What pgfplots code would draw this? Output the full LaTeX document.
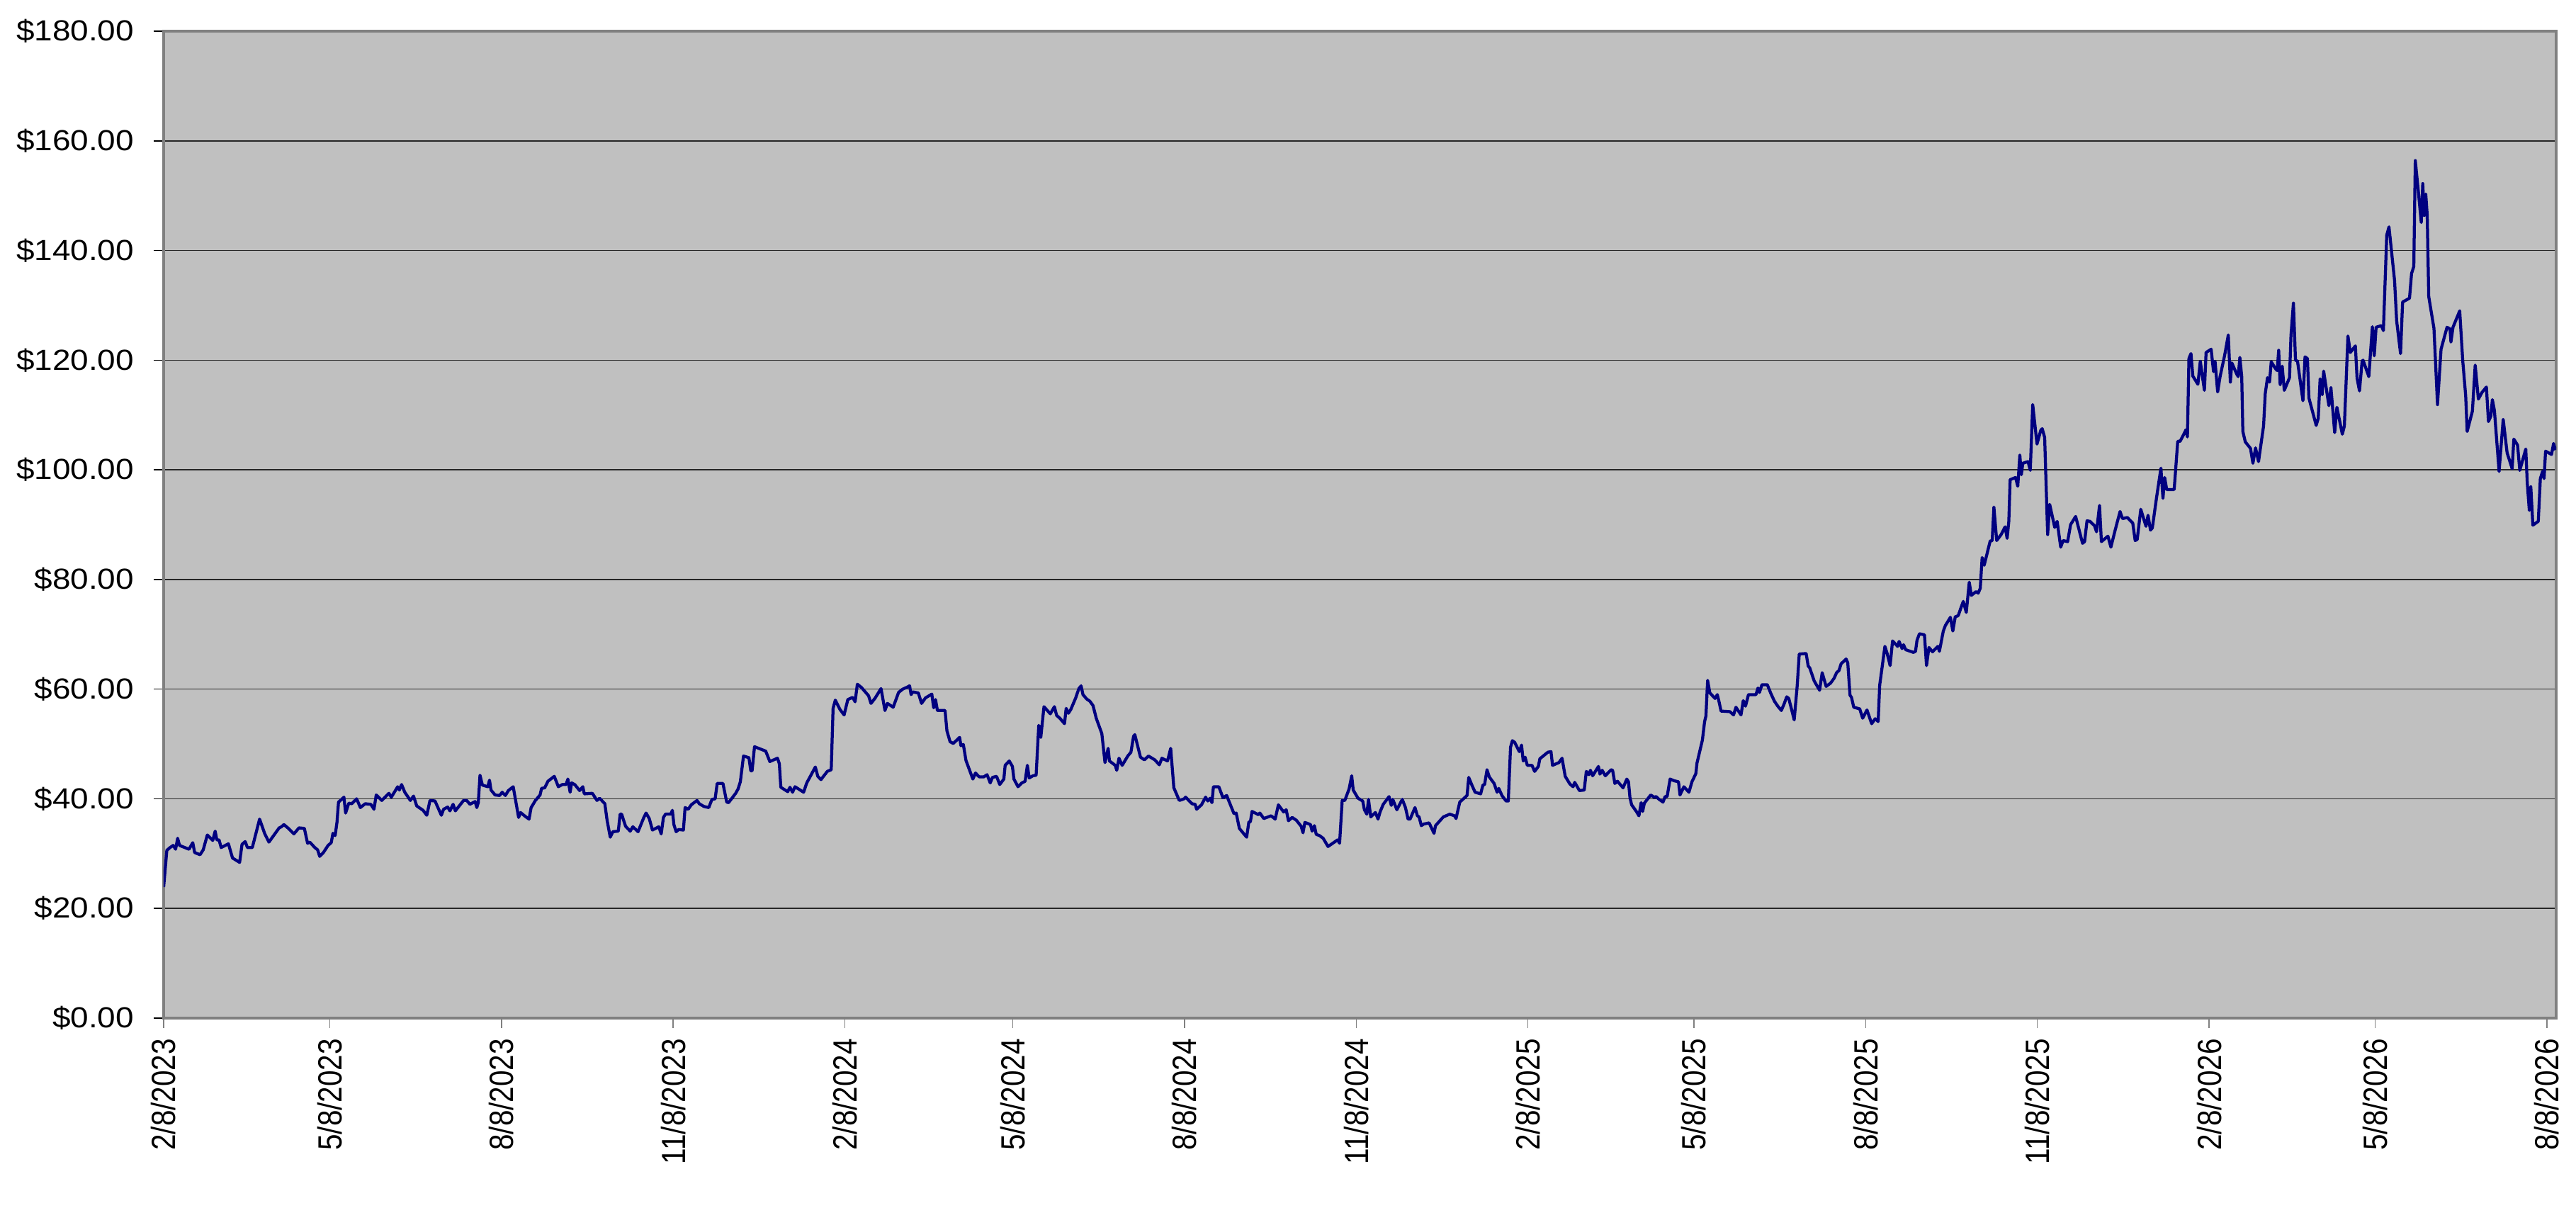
\documentclass[border=0pt]{standalone}
\usepackage{graphicx}
\usepackage{pgfplots}
\pgfplotsset{compat=1.18}
\usepackage{fontspec}
\setmainfont{Liberation Sans}
\newfontfamily\yfont[FakeStretch=1.12]{Liberation Sans}
\definecolor{bggray}{HTML}{C0C0C0}
\definecolor{bordergray}{HTML}{808080}
\definecolor{navyline}{HTML}{000080}
\newcommand\xl[1]{\scalebox{1}[1.17]{#1}}
\begin{document}
\begin{tikzpicture}
\useasboundingbox (-46.2pt,-58.2pt) rectangle (681pt,287.4pt);
\begin{axis}[
  at={(0pt,0pt)}, anchor=south west,
  scale only axis, width=675.4pt, height=278.6pt,
  xmin=0, xmax=1282, ymin=0, ymax=180,
  axis background/.style={fill=bggray},
  axis line style={draw=bordergray, line width=0.8pt},
  ytick={0,20,40,60,80,100,120,140,160,180},
  yticklabels={\$0.00,\$20.00,\$40.00,\$60.00,\$80.00,\$100.00,\$120.00,\$140.00,\$160.00,\$180.00},
  xtick={0,89,181,273,365,455,547,639,731,820,912,1004,1096,1185,1277},
  xticklabels={\xl{2/8/2023},\xl{5/8/2023},\xl{8/8/2023},\xl{11/8/2023},\xl{2/8/2024},\xl{5/8/2024},\xl{8/8/2024},\xl{11/8/2024},\xl{2/8/2025},\xl{5/8/2025},\xl{8/8/2025},\xl{11/8/2025},\xl{2/8/2026},\xl{5/8/2026},\xl{8/8/2026}},
  tick align=outside,
  major tick length=2.8pt,
  xtick pos=bottom, ytick pos=left,
  xtick style={draw=gray, line width=0.3pt},
  ytick style={draw=black, line width=0.3pt},
  ymajorgrids, major grid style={draw=black!85, line width=0.3pt},
  yticklabel style={font=\yfont\fontsize{8.2}{9}\selectfont, anchor=east, inner xsep=5.4pt, inner ysep=0pt},
  xticklabel style={font=\fontsize{8.1}{9}\selectfont, rotate=90, anchor=east, inner xsep=2.8pt, inner ysep=0pt},
]
\addplot[navyline, line width=0.85pt, mark=none, line join=round] table[row sep=\\] {
x y\\
0 23.9\\ 1.7 30.6\\ 3.4 31.1\\ 5.1 31.5\\ 6.4 30.8\\ 7.5 32.8\\ 8.5 31.5\\ 13.6 30.8\\ 15.6 32.0\\ 16.6 30.2\\
19.5 29.8\\ 21.2 30.7\\ 23.4 33.4\\ 26.3 32.4\\ 27.6 34.1\\ 28.5 32.5\\ 29.7 32.5\\ 30.8 31.1\\ 34.7 31.8\\ 36.9 29.2\\
40.7 28.4\\ 42.0 31.7\\ 43.7 32.2\\ 44.9 31.1\\ 47.5 31.1\\ 51.4 36.3\\ 54.2 33.6\\ 56.4 32.1\\ 61.9 34.7\\ 63.1 34.9\\
64.4 35.3\\ 66.9 34.6\\ 69.8 33.6\\ 72.5 34.7\\ 75.4 34.6\\ 77.1 31.9\\ 78.3 32.1\\ 81.0 31.1\\ 82.5 30.7\\ 83.6 29.5\\
85.6 30.2\\ 88.1 31.5\\ 89.8 32.0\\ 90.7 33.7\\ 91.9 33.3\\ 92.9 35.8\\ 93.7 39.4\\ 96.6 40.3\\ 97.5 37.4\\ 99.2 39.2\\
100.8 39.1\\ 103.4 40.0\\ 105.4 38.4\\ 108.0 39.1\\ 111.0 39.0\\ 112.7 38.1\\ 113.9 40.7\\ 116.9 39.7\\ 120.7 41.0\\ 122.0 40.3\\
125.4 42.2\\ 126.3 41.6\\ 127.5 42.6\\ 129.2 41.2\\ 132.2 39.7\\ 133.9 40.5\\ 135.6 38.7\\ 139.0 37.9\\ 141.0 37.0\\ 142.7 39.7\\
145.4 39.6\\ 148.8 37.0\\ 150.0 38.1\\ 152.2 38.5\\ 153.4 37.8\\ 155.1 39.0\\ 156.3 37.8\\ 160.7 39.7\\ 162.4 39.7\\ 164.1 39.0\\
166.9 39.5\\ 167.8 38.4\\ 168.6 39.3\\ 169.5 44.3\\ 170.8 42.5\\ 173.7 42.2\\ 174.6 43.4\\ 175.4 41.6\\ 177.6 40.7\\ 180.0 40.6\\
181.4 41.2\\ 183.1 40.6\\ 184.7 41.5\\ 187.3 42.2\\ 190.2 36.6\\ 191.2 37.5\\ 194.1 36.7\\ 195.8 36.3\\ 196.9 38.4\\ 199.2 39.7\\
201.7 40.7\\ 202.5 41.9\\ 204.2 42.0\\ 205.9 43.2\\ 209.3 44.1\\ 211.5 42.2\\ 213.6 42.6\\ 215.6 42.6\\ 216.6 43.6\\ 217.8 41.2\\
218.6 42.9\\ 220.3 42.6\\ 222.9 41.5\\ 224.6 42.2\\ 225.4 40.9\\ 229.7 41.0\\ 232.2 39.7\\ 233.6 40.1\\ 236.4 39.1\\ 237.6 36.1\\
239.3 33.0\\ 240.7 34.0\\ 243.6 34.1\\ 244.6 37.2\\ 245.4 37.2\\ 247.5 35.0\\ 250.0 34.1\\ 251.4 34.9\\ 254.2 34.0\\ 257.3 36.6\\
258.5 37.4\\ 260.2 36.4\\ 261.9 34.3\\ 265.3 34.9\\ 266.6 33.6\\ 267.8 36.6\\ 268.9 37.2\\ 271.7 37.2\\ 272.6 37.9\\ 273.4 35.3\\
274.6 34.0\\ 276.0 34.4\\ 278.5 34.3\\ 279.4 38.4\\ 281.1 38.1\\ 282.7 38.9\\ 285.8 39.7\\ 287.0 39.1\\ 289.5 38.6\\ 292.1 38.4\\
293.8 39.9\\ 295.5 40.0\\ 296.6 42.8\\ 299.7 42.8\\ 301.7 39.4\\ 302.7 39.3\\ 306.5 41.0\\ 307.8 41.8\\ 309.0 43.1\\ 310.7 47.8\\
313.6 47.5\\ 314.6 45.1\\ 315.3 45.1\\ 316.6 49.5\\ 322.6 48.7\\ 324.8 46.8\\ 328.9 47.4\\ 329.9 46.4\\ 330.7 42.1\\ 334.4 41.3\\
335.6 42.1\\ 337.0 41.2\\ 338.3 42.2\\ 342.9 41.2\\ 344.6 42.9\\ 349.2 45.8\\ 350.5 44.1\\ 352.2 43.5\\ 355.6 45.0\\ 357.7 45.3\\
358.7 56.5\\ 359.9 58.0\\ 362.4 56.3\\ 364.6 55.3\\ 366.6 58.1\\ 369.2 58.5\\ 370.5 57.7\\ 371.7 60.9\\ 373.9 60.3\\ 377.7 58.8\\
379.0 57.4\\ 381.1 58.3\\ 384.4 60.1\\ 386.5 56.1\\ 387.8 57.4\\ 390.9 56.7\\ 393.8 59.4\\ 396.0 60.0\\ 398.0 60.3\\ 399.7 60.6\\
400.5 59.0\\ 401.4 59.5\\ 404.4 59.3\\ 406.1 57.4\\ 408.2 58.4\\ 411.6 59.1\\ 412.6 56.6\\ 413.6 58.1\\ 414.6 56.1\\ 418.7 56.1\\
419.7 52.4\\ 421.4 50.4\\ 423.1 50.1\\ 426.5 51.2\\ 427.2 49.7\\ 428.5 49.9\\ 429.9 47.0\\ 433.6 43.6\\ 435.0 44.7\\ 437.0 44.0\\
439.5 44.0\\ 441.2 44.4\\ 442.9 42.9\\ 444.1 43.9\\ 446.3 44.1\\ 448.0 42.6\\ 450.2 43.6\\ 450.9 46.1\\ 453.1 46.9\\ 454.8 45.9\\
455.6 43.6\\ 457.8 42.2\\ 459.9 42.9\\ 461.6 43.2\\ 462.8 46.1\\ 463.8 43.8\\ 465.8 44.2\\ 467.5 44.3\\ 468.9 53.4\\ 470.0 51.2\\
471.7 56.8\\ 475.1 55.5\\ 477.3 56.8\\ 478.5 55.2\\ 480.2 54.7\\ 482.7 53.7\\ 483.6 56.5\\ 484.8 55.6\\ 486.1 56.3\\ 488.7 58.4\\
490.4 60.1\\ 491.6 60.6\\ 492.6 59.0\\ 494.6 58.2\\ 496.3 57.8\\ 498.0 57.0\\ 499.7 54.7\\ 502.7 51.9\\ 504.4 46.6\\ 506.1 49.2\\
506.8 46.9\\ 509.9 46.1\\ 510.7 45.2\\ 511.9 47.4\\ 513.6 46.1\\ 516.6 47.8\\ 518.3 48.5\\ 519.7 51.4\\ 520.4 51.7\\ 523.4 47.6\\
525.5 47.1\\ 527.7 47.8\\ 531.1 47.1\\ 533.5 46.2\\ 534.9 47.4\\ 537.9 46.9\\ 539.6 49.2\\ 541.3 42.0\\ 544.2 39.7\\ 546.8 40.0\\
547.6 40.3\\ 551.0 39.1\\ 552.7 39.0\\ 553.5 38.1\\ 556.1 38.9\\ 558.3 40.3\\ 559.5 39.6\\ 560.7 40.1\\ 561.7 39.3\\ 562.5 42.2\\
565.4 42.2\\ 567.6 40.2\\ 569.6 40.6\\ 573.5 37.3\\ 574.7 37.4\\ 576.4 34.6\\ 580.3 33.0\\ 581.5 35.8\\ 582.3 35.8\\ 583.2 37.7\\
586.6 37.1\\ 587.4 37.4\\ 589.5 36.4\\ 593.4 36.9\\ 595.6 36.3\\ 597.3 38.9\\ 600.1 37.6\\ 601.5 38.0\\ 602.7 36.0\\ 604.7 36.6\\
606.9 36.1\\ 609.5 35.0\\ 610.5 33.8\\ 611.5 35.7\\ 614.5 35.3\\ 615.4 34.1\\ 616.6 35.1\\ 617.6 33.5\\ 619.3 33.3\\ 621.3 32.8\\
623.9 31.3\\ 629.0 32.5\\ 630.1 31.9\\ 631.5 39.7\\ 632.9 39.7\\ 635.2 41.8\\ 636.6 44.2\\ 637.4 41.6\\ 640.0 40.1\\ 642.5 39.6\\
643.4 38.0\\ 644.7 37.2\\ 645.6 39.9\\ 646.8 36.7\\ 649.3 37.5\\ 650.7 36.3\\ 651.8 37.6\\ 653.5 39.0\\ 656.6 40.4\\ 657.8 38.8\\
658.6 39.9\\ 660.8 38.0\\ 663.7 39.9\\ 665.4 38.4\\ 666.8 36.3\\ 667.9 36.3\\ 670.5 38.4\\ 671.8 36.9\\ 672.7 36.7\\ 673.9 35.1\\
675.2 35.4\\ 678.1 35.6\\ 680.7 33.7\\ 681.5 35.1\\ 685.7 36.7\\ 687.8 37.0\\ 689.1 37.2\\ 691.7 36.9\\ 692.5 36.4\\ 694.5 39.4\\
698.4 40.6\\ 699.3 43.9\\ 701.0 42.5\\ 702.7 41.2\\ 705.7 40.9\\ 706.9 42.5\\ 707.8 42.6\\ 709.1 45.3\\ 710.3 44.0\\ 712.9 42.8\\
714.5 41.2\\ 715.4 41.9\\ 717.1 40.6\\ 719.3 39.6\\ 720.5 39.6\\ 721.7 49.4\\ 722.7 50.6\\ 723.9 50.3\\ 726.4 48.6\\ 727.6 49.8\\
728.5 46.9\\ 729.5 47.6\\ 730.7 46.1\\ 733.2 46.1\\ 734.6 45.0\\ 736.6 45.9\\ 737.4 47.3\\ 741.7 48.5\\ 743.4 48.6\\ 744.2 46.1\\
747.6 46.6\\ 749.3 47.4\\ 751.0 44.1\\ 753.5 42.7\\ 755.2 42.2\\ 756.1 43.0\\ 758.6 41.5\\ 761.2 41.6\\ 762.3 45.0\\ 763.7 44.4\\
764.5 45.2\\ 765.7 44.2\\ 768.8 45.9\\ 769.6 44.5\\ 770.8 45.2\\ 772.5 44.2\\ 775.6 45.3\\ 776.4 45.2\\ 777.6 42.8\\ 779.0 43.2\\
782.0 42.0\\ 784.0 43.6\\ 784.9 43.1\\ 785.7 40.2\\ 786.6 38.9\\ 789.1 37.7\\ 790.5 36.9\\ 791.7 39.3\\ 792.5 37.7\\ 793.4 39.2\\
796.8 40.7\\ 798.6 40.3\\ 799.7 40.4\\ 801.3 39.9\\ 803.4 39.4\\ 804.5 40.4\\ 805.6 40.4\\ 807.2 43.6\\ 809.3 43.3\\ 811.7 43.1\\
812.5 40.7\\ 814.6 42.2\\ 817.3 41.2\\ 818.9 43.1\\ 821.0 44.6\\ 821.6 46.5\\ 824.5 50.7\\ 825.7 54.1\\ 826.4 55.1\\ 827.3 61.6\\
828.5 59.3\\ 830.5 58.6\\ 831.3 58.3\\ 832.5 59.0\\ 833.3 57.9\\ 834.5 56.0\\ 839.2 55.9\\ 841.2 55.3\\ 842.5 56.7\\ 845.2 55.3\\
846.4 57.9\\ 847.6 56.9\\ 849.2 59.0\\ 853.2 59.0\\ 854.3 60.2\\ 855.1 59.4\\ 856.4 60.8\\ 859.3 60.8\\ 861.2 59.2\\ 863.1 57.8\\
864.9 56.9\\ 866.8 56.1\\ 868.4 57.4\\ 869.7 58.6\\ 870.8 58.3\\ 873.7 54.4\\ 875.3 60.6\\ 876.4 66.4\\ 880.1 66.5\\ 881.2 64.2\\
882.0 63.9\\ 884.4 61.5\\ 887.3 59.8\\ 888.7 63.0\\ 890.8 60.5\\ 893.2 61.1\\ 895.1 62.0\\ 896.4 63.0\\ 897.7 63.4\\ 898.8 64.6\\
901.5 65.5\\ 902.4 64.8\\ 903.6 58.9\\ 904.4 58.5\\ 905.6 56.7\\ 908.8 56.4\\ 910.4 54.7\\ 912.7 56.2\\ 915.2 53.7\\ 917.1 54.6\\
918.7 54.1\\ 919.5 60.7\\ 922.3 67.8\\ 923.5 66.5\\ 925.1 64.3\\ 926.4 68.8\\ 929.1 67.8\\ 929.9 68.7\\ 931.5 67.4\\ 932.3 68.1\\
933.4 67.2\\ 937.6 66.7\\ 938.7 66.9\\ 939.5 68.9\\ 940.8 70.1\\ 943.5 69.9\\ 944.6 64.3\\ 945.9 67.6\\ 947.8 66.8\\ 950.7 67.8\\
951.5 66.9\\ 953.6 70.6\\ 954.7 71.6\\ 957.4 73.1\\ 958.7 70.6\\ 960.0 73.2\\ 961.6 73.4\\ 962.7 74.5\\ 964.3 76.0\\ 965.9 74.0\\
967.5 79.5\\ 968.6 77.1\\ 971.2 77.8\\ 972.3 77.5\\ 973.4 78.4\\ 974.4 84.0\\ 975.5 82.6\\ 978.7 87.0\\ 979.8 87.1\\ 980.7 93.2\\
982.2 87.1\\ 984.6 88.2\\ 986.7 89.6\\ 987.8 87.5\\ 988.7 90.6\\ 989.4 98.2\\ 992.3 98.6\\ 993.5 97.0\\ 994.6 102.7\\ 995.4 99.1\\
996.2 101.2\\ 999.0 101.5\\ 1000.2 99.9\\ 1001.5 111.9\\ 1003.8 104.7\\ 1005.8 107.2\\ 1006.6 107.5\\ 1007.9 105.9\\ 1009.5 88.2\\ 1010.6 93.7\\
1013.3 89.5\\ 1014.6 90.6\\ 1016.5 85.9\\ 1017.8 87.1\\ 1020.2 86.9\\ 1021.8 90.0\\ 1024.5 91.5\\ 1028.2 86.6\\ 1029.3 86.9\\ 1030.6 90.7\\
1032.2 90.6\\ 1034.6 89.8\\ 1035.7 88.7\\ 1037.3 93.5\\ 1038.3 86.9\\ 1041.8 87.9\\ 1043.4 85.9\\ 1045.6 88.9\\ 1048.3 92.4\\ 1049.6 91.1\\
1052.2 91.3\\ 1055.1 90.3\\ 1056.4 87.1\\ 1057.5 87.3\\ 1059.4 92.8\\ 1062.2 89.7\\ 1063.3 91.7\\ 1064.6 89.0\\ 1065.6 89.4\\ 1067.8 94.8\\
1070.2 100.3\\ 1071.3 94.8\\ 1072.2 98.6\\ 1073.3 96.4\\ 1077.3 96.4\\ 1079.2 105.2\\ 1080.5 105.2\\ 1082.9 106.8\\ 1083.6 107.3\\ 1084.4 106.0\\
1085.2 120.3\\ 1086.3 121.2\\ 1087.3 117.1\\ 1090.0 115.6\\ 1091.3 119.8\\ 1092.4 117.1\\ 1093.5 114.5\\ 1094.4 121.4\\ 1097.1 122.0\\ 1098.4 117.9\\
1099.2 119.8\\ 1100.6 114.2\\ 1101.9 117.0\\ 1104.3 120.8\\ 1106.3 124.6\\ 1107.4 116.0\\ 1108.2 119.5\\ 1110.9 117.4\\ 1111.6 117.0\\ 1112.5 120.5\\
1113.5 117.0\\ 1114.1 107.0\\ 1115.4 105.1\\ 1118.2 103.9\\ 1119.5 101.2\\ 1120.9 104.0\\ 1122.5 101.5\\ 1125.2 108.0\\ 1126.1 113.9\\ 1127.3 116.8\\
1128.4 116.0\\ 1129.3 119.7\\ 1131.7 118.4\\ 1132.5 118.1\\ 1133.3 121.8\\ 1134.1 115.5\\ 1135.2 118.9\\ 1136.3 114.5\\ 1139.1 116.8\\ 1139.9 124.6\\
1141.2 130.4\\ 1142.3 120.0\\ 1143.4 119.8\\ 1146.3 112.6\\ 1147.4 120.6\\ 1148.7 120.3\\ 1149.5 113.1\\ 1153.4 108.1\\ 1154.5 109.4\\ 1155.5 116.6\\
1156.6 113.7\\ 1157.4 118.0\\ 1160.2 111.7\\ 1161.3 115.0\\ 1163.3 106.8\\ 1164.5 111.4\\ 1167.4 106.5\\ 1168.5 108.0\\ 1170.4 124.4\\ 1171.7 121.4\\
1174.4 122.6\\ 1175.3 116.7\\ 1176.6 114.4\\ 1178.0 119.8\\ 1178.5 120.0\\ 1181.6 117.0\\ 1183.5 126.1\\ 1184.5 120.8\\ 1185.5 126.0\\ 1188.3 126.3\\
1189.4 125.4\\ 1191.2 142.8\\ 1192.4 144.3\\ 1195.4 134.5\\ 1196.5 127.2\\ 1198.6 121.2\\ 1199.7 130.6\\ 1203.4 131.3\\ 1204.5 135.8\\ 1205.7 137.1\\
1206.5 156.4\\ 1208.1 150.9\\ 1209.7 145.1\\ 1210.5 152.2\\ 1211.3 146.4\\ 1212.1 150.3\\ 1212.9 146.4\\ 1213.7 131.6\\ 1216.5 125.8\\ 1218.4 111.9\\
1220.3 122.0\\ 1223.5 126.0\\ 1225.1 125.7\\ 1225.6 123.3\\ 1226.7 126.0\\ 1230.3 129.0\\ 1231.9 120.0\\ 1233.5 113.5\\ 1234.3 107.0\\ 1237.1 110.7\\
1238.6 119.1\\ 1240.3 112.9\\ 1242.2 114.1\\ 1244.6 115.1\\ 1245.7 108.8\\ 1247.0 109.8\\ 1247.8 112.8\\ 1248.9 110.8\\ 1251.4 99.7\\ 1253.6 109.2\\
1255.7 103.1\\ 1258.4 100.2\\ 1259.3 105.6\\ 1261.3 104.5\\ 1262.5 99.9\\ 1265.7 103.8\\ 1266.5 97.6\\ 1267.6 92.6\\ 1268.4 96.9\\ 1269.5 89.9\\
1272.4 90.6\\ 1273.5 98.4\\ 1274.7 99.7\\ 1275.5 98.4\\ 1276.3 103.4\\ 1279.5 102.8\\ 1280.6 104.8\\ 1281.6 103.6\\
};
\end{axis}
\end{tikzpicture}
\end{document}
